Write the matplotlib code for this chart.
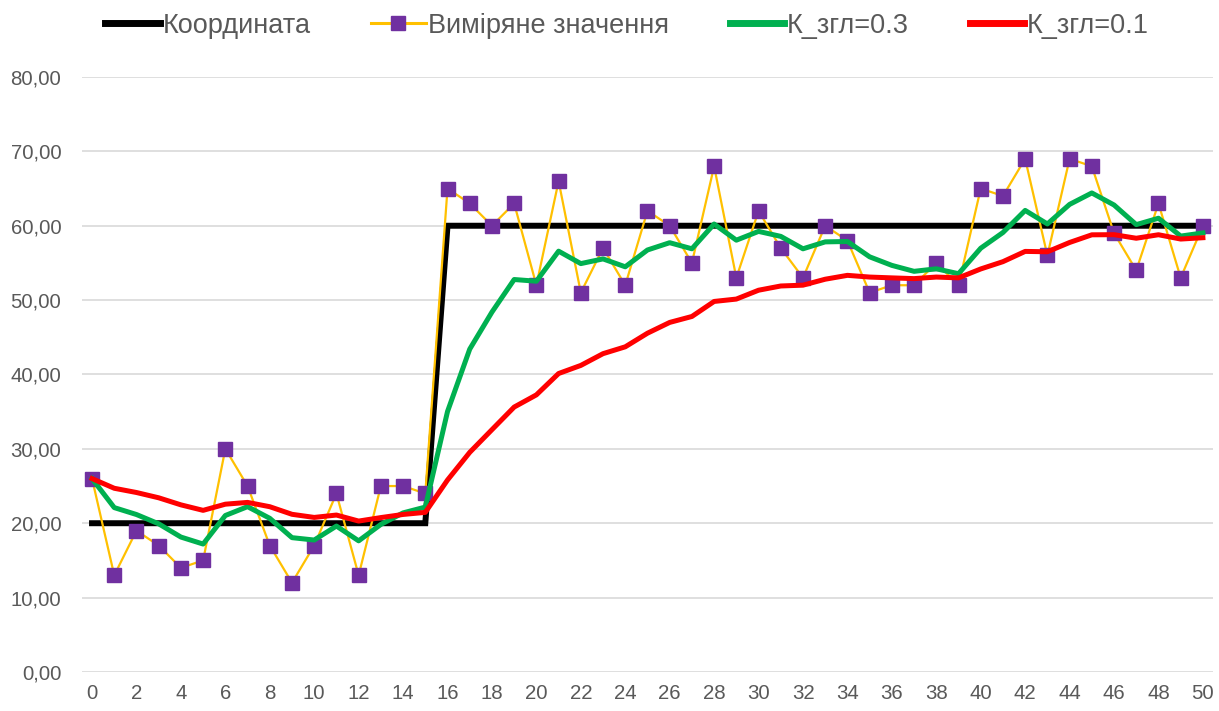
import matplotlib
matplotlib.use("Agg")
import matplotlib.pyplot as plt

plt.rcParams['font.family'] = ['Liberation Sans', 'DejaVu Sans']

x = list(range(51))
coord = [20]*16 + [60]*35
measured = [26, 13, 19, 17, 14, 15, 30, 25, 17, 12, 17, 24, 13, 25, 25, 24,
            65, 63, 60, 63, 52, 66, 51, 57, 52, 62, 60, 55, 68, 53, 62, 57,
            53, 60, 58, 51, 52, 52, 55, 52, 65, 64, 69, 56, 69, 68, 59, 54,
            63, 53, 60]
k03 = [26.00, 22.10, 21.17, 19.92, 18.14, 17.20, 21.04, 22.23, 20.66, 18.06,
       17.74, 19.62, 17.63, 19.84, 21.39, 22.17, 35.02, 43.41, 48.39, 52.77,
       52.54, 56.58, 54.91, 55.54, 54.48, 56.74, 57.72, 56.90, 60.23, 58.06,
       59.24, 58.57, 56.90, 57.83, 57.88, 55.82, 54.67, 53.87, 54.21, 53.55,
       56.98, 59.09, 62.06, 60.24, 62.87, 64.41, 62.79, 60.15, 61.01, 58.61,
       59.03]
k01 = [26.00, 24.70, 24.13, 23.42, 22.47, 21.73, 22.56, 22.80, 22.22, 21.20,
       20.78, 21.10, 20.29, 20.76, 21.18, 21.46, 25.81, 29.53, 32.58, 35.62,
       37.26, 40.13, 41.22, 42.80, 43.72, 45.55, 47.00, 47.80, 49.82, 50.14,
       51.33, 51.90, 52.01, 52.81, 53.33, 53.10, 52.99, 52.89, 53.10, 52.99,
       54.19, 55.17, 56.55, 56.50, 57.75, 58.78, 58.80, 58.32, 58.79, 58.21,
       58.39]
labels = ['Координата', 'Виміряне значення', 'К_згл=0.3', 'К_згл=0.1']
yticks = [0, 10, 20, 30, 40, 50, 60, 70, 80]

fig = plt.figure(figsize=(12.19, 7.11), dpi=100)
ax = fig.add_axes([0.0673, 0.0549, 0.995 - 0.0673, 0.8917 - 0.0549])

l1, = ax.plot(x, coord, color='black', lw=4.3, solid_joinstyle='miter', zorder=3)
l2, = ax.plot(x, measured, color='#FFC000', lw=1.6, marker='s', ms=10,
              mfc='#7030A0', mec='#7030A0', zorder=4)
l3, = ax.plot(x, k03, color='#00B050', lw=3.6, zorder=5)
l4, = ax.plot(x, k01, color='#FF0000', lw=3.6, zorder=6)

ax.set_xlim(-0.45, 50.45)
ax.set_ylim(0, 80)
ax.set_yticks(yticks)
ax.set_yticklabels([f"{v:.2f}".replace('.', ',') for v in yticks])
ax.set_xticks(range(0, 51, 2))
ax.grid(axis='y', color='#D9D9D9', lw=1.2)
ax.set_axisbelow(True)
for s in ax.spines.values():
    s.set_visible(False)
ax.tick_params(axis='both', length=0, labelsize=14.7, labelcolor='#595959')
ax.tick_params(axis='y', pad=15)
ax.tick_params(axis='x', pad=9)

leg = fig.legend([l1, l2, l3, l4], labels, loc='center', bbox_to_anchor=(0.5145, 0.964),
                 ncol=4, frameon=False, fontsize=19.5, handlelength=2.0, handletextpad=0.1,
                 columnspacing=2.25, labelcolor='#595959')
handles = leg.legend_handles
for i, h in enumerate(handles):
    if i == 1:
        h.set_linewidth(2.2)
    else:
        h.set_linewidth(5)

fig.savefig('out.png', dpi=100)
